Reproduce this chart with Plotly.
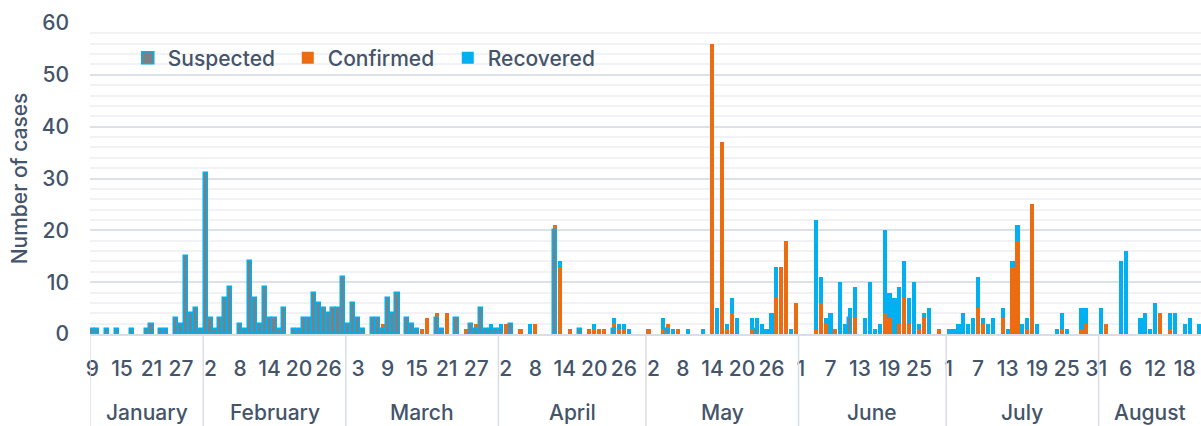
import pandas as pd
import plotly.graph_objects as go

YEAR = 2020

# ---------------- data (month-day, value) ----------------
suspected_dates = ["01-09", "01-10", "01-12", "01-14", "01-17", "01-20", "01-21", "01-23", "01-24",
                   "01-26", "01-27", "01-28", "01-29", "01-30", "01-31",
                   "02-01", "02-02", "02-03", "02-04", "02-05", "02-06",
                   "02-08", "02-09", "02-10", "02-11", "02-12", "02-13", "02-14", "02-15", "02-16", "02-17",
                   "02-19", "02-20", "02-21", "02-22", "02-23", "02-24", "02-25", "02-26", "02-27", "02-28", "02-29",
                   "03-01", "03-02", "03-03", "03-04",
                   "03-06", "03-07", "03-08", "03-09", "03-10", "03-11",
                   "03-13", "03-14", "03-15", "03-19", "03-20", "03-23",
                   "03-26", "03-27", "03-28", "03-29", "03-30", "03-31",
                   "04-01", "04-03", "04-12", "04-17", "04-24", "05-05", "05-23", "06-11"]
suspected_values = [1, 1, 1, 1, 1, 1, 2, 1, 1,
                    3, 2, 15, 4, 5, 1,
                    31, 3, 1, 3, 7, 9,
                    2, 1, 14, 7, 2, 9, 3, 3, 1, 5,
                    1, 1, 3, 3, 8, 6, 5, 4, 5, 5, 11,
                    2, 6, 3, 1,
                    3, 3, 1, 7, 4, 8,
                    3, 2, 1, 3, 1, 3,
                    2, 1, 5, 1, 1, 1,
                    1, 2, 20, 1, 1, 1, 1, 3]

confirmed_dates = ["03-08", "03-16", "03-17", "03-19", "03-21", "03-25", "03-27",
                   "04-02", "04-05", "04-08", "04-12", "04-13", "04-15", "04-19", "04-20", "04-21", "04-22",
                   "04-24", "04-25", "04-26",
                   "05-01", "05-04", "05-05", "05-07", "05-14", "05-16", "05-17", "05-18", "05-22",
                   "05-27", "05-28", "05-29", "05-31",
                   "06-04", "06-05", "06-06", "06-08", "06-12", "06-18", "06-19", "06-21", "06-22",
                   "06-23", "06-25", "06-26", "06-29",
                   "07-07", "07-08", "07-12", "07-14", "07-15", "07-17", "07-18", "07-24", "07-28", "07-29",
                   "08-02", "08-13", "08-15"]
confirmed_values = [2, 1, 3, 4, 4, 1, 2,
                    2, 1, 2, 21, 13, 1, 1, 1, 1, 1,
                    2, 1, 1,
                    1, 1, 2, 1, 56, 37, 1, 4, 1,
                    7, 13, 18, 6,
                    1, 6, 2, 1, 3, 4, 3, 2, 7,
                    2, 1, 3, 1,
                    5, 2, 3, 13, 18, 1, 25, 1, 1, 2,
                    2, 4, 1]

recovered_dates = ["03-30", "04-01", "04-07", "04-08", "04-13", "04-20", "04-24", "04-25", "04-26", "04-27",
                   "05-04", "05-06", "05-09", "05-12", "05-15", "05-17", "05-18", "05-19", "05-22", "05-23",
                   "05-24", "05-25", "05-26", "05-27", "05-30",
                   "06-04", "06-05", "06-06", "06-07", "06-09", "06-10", "06-11", "06-12", "06-14", "06-15",
                   "06-16", "06-17", "06-18", "06-19", "06-20", "06-21", "06-22", "06-23", "06-24", "06-25",
                   "06-26", "06-27",
                   "07-01", "07-02", "07-03", "07-04", "07-05", "07-06", "07-07", "07-08", "07-09", "07-10",
                   "07-12", "07-13", "07-14", "07-15", "07-16", "07-17", "07-19",
                   "07-23", "07-24", "07-25", "07-28", "07-29",
                   "08-01", "08-05", "08-06", "08-09", "08-10", "08-11", "08-12", "08-15", "08-16",
                   "08-18", "08-19", "08-21"]
recovered_values = [2, 2, 2, 1, 14, 2, 3, 2, 2, 1,
                    3, 1, 1, 1, 5, 2, 7, 3, 3, 3,
                    2, 1, 4, 13, 1,
                    22, 11, 3, 4, 10, 2, 5, 9, 3, 10,
                    1, 2, 20, 8, 7, 9, 14, 7, 10, 2,
                    4, 5,
                    1, 1, 2, 4, 2, 3, 11, 3, 2, 3,
                    5, 1, 14, 21, 2, 3, 2,
                    1, 4, 1, 5, 5,
                    5, 14, 16, 3, 4, 1, 6, 4, 4,
                    2, 3, 2]

series_names = ["Suspected", "Confirmed", "Recovered"]
month_labels = ["January", "February", "March", "April", "May", "June", "July", "August"]
first_day_label = "01-09"
tick_step_days = 6
y_ticks = [0, 10, 20, 30, 40, 50, 60]
y_title = "Number of cases"

# ---------------- styling ----------------
FONT = "Inter"
WEIGHT = 500
TXT = "#44546A"
C_SUS = "#7F7F7F"
C_SUS_LINE = "#00B0F0"
C_CONF = "#EC6C12"
C_REC = "#00B0F0"
SEP = "#D9DEE6"
DAY_MS = 86400000
TFONT = dict(family=FONT, size=21, color=TXT, weight=WEIGHT)


def to_dates(md):
    return pd.to_datetime([f"{YEAR}-{d}" for d in md])


first_day = pd.Timestamp(f"{YEAR}-{first_day_label}")
x_start = first_day - pd.Timedelta(hours=12)
x_end = first_day + pd.Timedelta(days=225.3)
bar_w = 0.84 * DAY_MS

fig = go.Figure()
fig.add_bar(name=series_names[2], x=to_dates(recovered_dates), y=recovered_values,
            marker=dict(color=C_REC, line=dict(width=0)), width=bar_w, legendrank=3)
fig.add_bar(name=series_names[1], x=to_dates(confirmed_dates), y=confirmed_values,
            marker=dict(color=C_CONF, line=dict(width=0)), width=bar_w, legendrank=2)
fig.add_bar(name=series_names[0], x=to_dates(suspected_dates), y=suspected_values,
            marker=dict(color=C_SUS, line=dict(color=C_SUS_LINE, width=1.5)), width=bar_w, legendrank=1)

# month group labels + separators
shapes = []
annotations = []
for i, name in enumerate(month_labels):
    m0 = pd.Timestamp(YEAR, i + 1, 1)
    m_start = m0 - pd.Timedelta(hours=12)
    m_end = (m0 + pd.offsets.MonthBegin(1)) - pd.Timedelta(hours=12)
    lo = max(m_start, x_start)
    hi = min(m_end, x_end)
    mid = lo + (hi - lo) / 2
    annotations.append(dict(x=mid.isoformat(), y=-0.252, xref="x", yref="paper", text=name,
                            showarrow=False, font=TFONT, xanchor="center", yanchor="middle"))
    shapes.append(dict(type="line", xref="x", yref="paper", x0=lo.isoformat(), x1=lo.isoformat(),
                       y0=0, y1=-0.32, line=dict(color=SEP, width=1.5)))

fig.update_layout(
    width=1201, height=426,
    margin=dict(l=90, r=0, t=23, b=92),
    barmode="overlay", bargap=0,
    plot_bgcolor="white", paper_bgcolor="white",
    font=TFONT,
    legend=dict(orientation="h", x=0.034, y=0.887, xanchor="left", yanchor="middle",
                bgcolor="rgba(0,0,0,0)", font=TFONT, entrywidth=115, traceorder="normal"),
    shapes=shapes, annotations=annotations,
)
fig.update_xaxes(type="date", range=[x_start, x_end], tick0=first_day, dtick=tick_step_days * DAY_MS,
                 tickformat="%-d", tickangle=0, showgrid=False, ticks="", showline=True,
                 linecolor=SEP, linewidth=2, ticklabelstandoff=15, automargin=False,
                 tickfont=TFONT)
fig.update_yaxes(range=[0, 60], tickvals=y_ticks, showgrid=True, gridcolor="#DCE1E8", gridwidth=1.5,
                 minor=dict(dtick=2, showgrid=True, gridcolor="#F0F2F5", gridwidth=1.5),
                 zeroline=False, ticks="", ticklabelstandoff=20, automargin=False,
                 tickfont=TFONT,
                 title=dict(text=y_title, standoff=8, font=TFONT))

fig.write_html("out.html", config={"displayModeBar": False},
               post_script="document.body.style.margin='0';")
